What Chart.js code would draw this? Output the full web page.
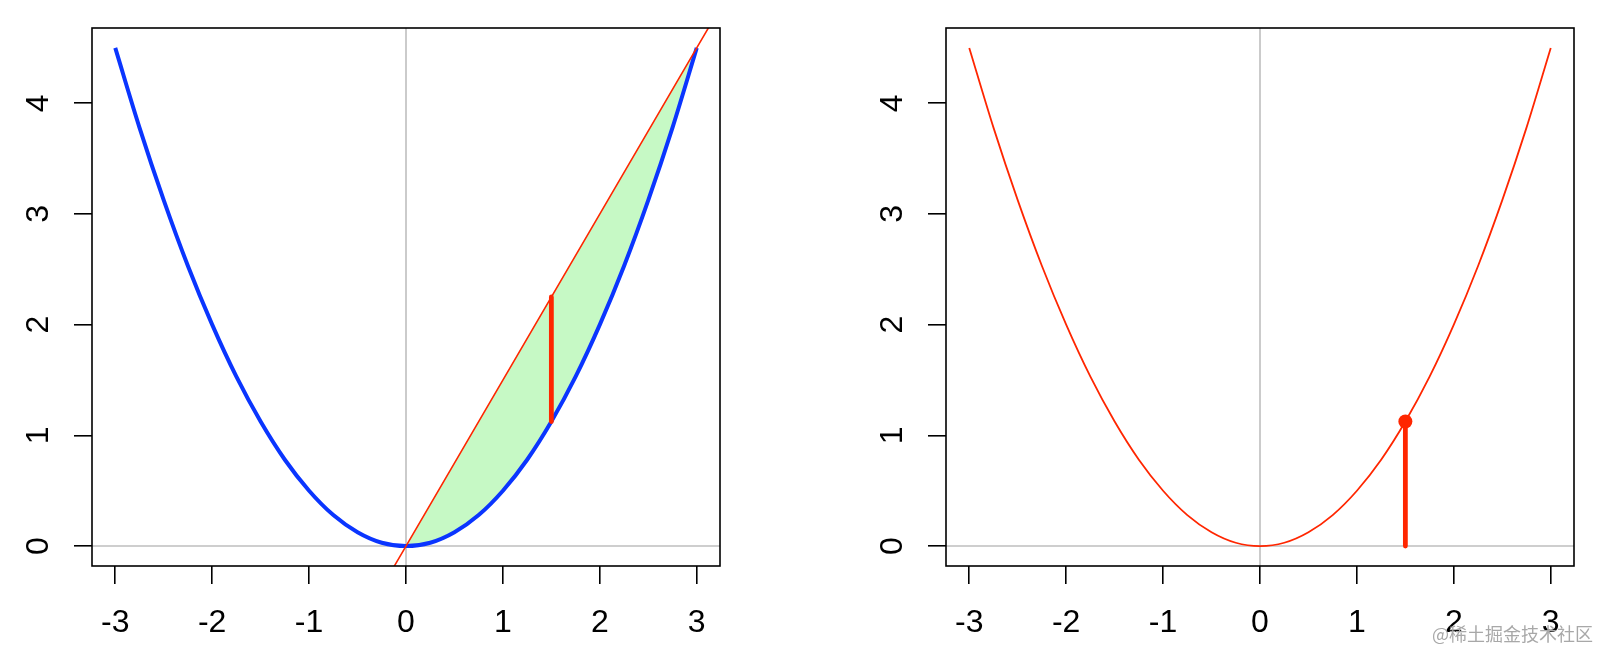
<!DOCTYPE html>
<html>
<head>
<meta charset="utf-8">
<script src="https://cdn.jsdelivr.net/npm/chart.js@4"></script>
<style>
  body { margin: 0; background: #fff; }
  #wrap { position: relative; width: 1600px; height: 647px; }
  .panel { position: absolute; top: 0; width: 800px; height: 647px; }
  #left { left: 0; }
  #right { left: 800px; }
  #mark { position: absolute; left: 1432px; top: 620px; font: 18px "Noto Sans CJK SC"; color: #a8a8a8; white-space: nowrap; }
</style>
</head>
<body>
<div id="wrap">
  <div class="panel" id="left"><canvas id="c1"></canvas></div>
  <div class="panel" id="right"><canvas id="c2"></canvas></div>
  <div id="mark">@稀土掘金技术社区</div>
</div>
<script>
// values
const xTicks = [-3, -2, -1, 0, 1, 2, 3];
const yTicks = [0, 1, 2, 3, 4];
const curveX = [-3, -2.75, -2.5, -2.25, -2, -1.75, -1.5, -1.25, -1, -0.75, -0.5, -0.25, 0,
                0.25, 0.5, 0.75, 1, 1.25, 1.5, 1.75, 2, 2.25, 2.5, 2.75, 3];
const curveY = [4.5, 3.78, 3.125, 2.53, 2, 1.53, 1.125, 0.78, 0.5, 0.28, 0.125, 0.03, 0,
                0.03, 0.125, 0.28, 0.5, 0.78, 1.125, 1.53, 2, 2.53, 3.125, 3.78, 4.5];
const chordX = [-0.2, 0, 3, 3.2];
const chordY = [-0.3, 0, 4.5, 4.8];
const markX = 1.5;
const markLow = 1.125;
const markHigh = 2.25;

const RED = '#ff2600';
const BLUE = '#0a35ff';
const GREEN = '#c6f9c5';
const GREY = '#bebebe';
const FONT = '"Liberation Sans", Arial, sans-serif';

function pts(xs, ys) {
  return xs.map((x, i) => ({x: x, y: ys[i]}));
}
function part(xs, ys, lo, hi) {
  return pts(xs, ys).filter(p => p.x >= lo && p.x <= hi);
}

function guides() {
  return [
    {data: [{x: 0, y: -1}, {x: 0, y: 6}], showLine: true, borderColor: GREY, borderWidth: 1.6, order: 9},
    {data: [{x: -4, y: 0}, {x: 4, y: 0}], showLine: true, borderColor: GREY, borderWidth: 1.6, order: 9}
  ];
}

// frame + rotated y labels, like R's base graphics
const boxPlugin = {
  id: 'box',
  afterDraw(chart) {
    const ctx = chart.ctx;
    const a = chart.chartArea;
    const ys = chart.scales.y;
    ctx.save();
    ctx.strokeStyle = '#000';
    ctx.lineWidth = 1.6;
    ctx.strokeRect(a.left, a.top, a.right - a.left, a.bottom - a.top);
    ctx.fillStyle = '#000';
    ctx.font = '32px ' + FONT;
    ctx.textAlign = 'center';
    ctx.textBaseline = 'middle';
    yTicks.forEach(v => {
      ctx.save();
      ctx.translate(a.left - 53, ys.getPixelForValue(v));
      ctx.rotate(-Math.PI / 2);
      ctx.fillText(String(v), 0, 0);
      ctx.restore();
    });
    ctx.restore();
  }
};

function scales(yWidth) {
  return {
    x: {
      type: 'linear', min: -3.24, max: 3.24,
      afterFit(s) { s.height = 81; },
      afterBuildTicks(s) { s.ticks = xTicks.map(v => ({value: v})); },
      border: {display: false},
      grid: {drawOnChartArea: false, drawTicks: true, tickLength: 18, color: '#000', lineWidth: 1.6},
      ticks: {color: '#000', font: {family: FONT, size: 32}, padding: 20, maxRotation: 0,
              callback: v => String(v)}
    },
    y: {
      type: 'linear', min: -0.18, max: 4.68,
      afterFit(s) { s.width = yWidth; },
      afterBuildTicks(s) { s.ticks = yTicks.map(v => ({value: v})); },
      border: {display: false},
      grid: {drawOnChartArea: false, drawTicks: true, tickLength: 18, color: '#000', lineWidth: 1.6},
      ticks: {display: false}
    }
  };
}

function baseOptions(yWidth, padRight) {
  return {
    responsive: false,
    animation: false,
    events: [],
    layout: {padding: {top: 28, right: padRight, bottom: 0, left: 0}},
    plugins: {legend: {display: false}, tooltip: {enabled: false}},
    elements: {point: {radius: 0}},
    scales: scales(yWidth)
  };
}

function makeCanvas(id) {
  const c = document.getElementById(id);
  c.width = 800;
  c.height = 647;
  return c;
}

new Chart(makeCanvas('c1'), {
  type: 'scatter',
  data: {
    datasets: [
      {data: [{x: markX, y: markLow}, {x: markX, y: markHigh}], showLine: true,
       borderColor: RED, borderWidth: 4.8, borderCapStyle: 'round', order: 1},
      {data: pts(chordX, chordY), showLine: true, borderColor: RED, borderWidth: 1.6, order: 2},
      {data: pts(curveX, curveY), showLine: true, borderColor: BLUE, borderWidth: 4,
       cubicInterpolationMode: 'monotone', order: 3},
      // green band between the chord and the curve, 0..3 (filled to dataset 6)
      {data: part(curveX, curveY, 0, 3), showLine: true, borderWidth: 0, borderColor: 'rgba(0,0,0,0)',
       cubicInterpolationMode: 'monotone', backgroundColor: GREEN, fill: 6, order: 4},
      ...guides(),
      {data: part(chordX, chordY, 0, 3), showLine: true, borderWidth: 0, borderColor: 'rgba(0,0,0,0)', order: 10}
    ]
  },
  options: baseOptions(92, 80),
  plugins: [boxPlugin]
});

new Chart(makeCanvas('c2'), {
  type: 'scatter',
  data: {
    datasets: [
      {data: [{x: markX, y: markLow}], pointRadius: 7, pointBackgroundColor: RED,
       pointBorderWidth: 0, order: 1},
      {data: [{x: markX, y: 0}, {x: markX, y: markLow}], showLine: true,
       borderColor: RED, borderWidth: 4.8, borderCapStyle: 'round', order: 2},
      {data: pts(curveX, curveY), showLine: true, borderColor: RED, borderWidth: 1.8,
       cubicInterpolationMode: 'monotone', order: 3},
      ...guides()
    ]
  },
  options: baseOptions(146, 26),
  plugins: [boxPlugin]
});
</script>
</body>
</html>
